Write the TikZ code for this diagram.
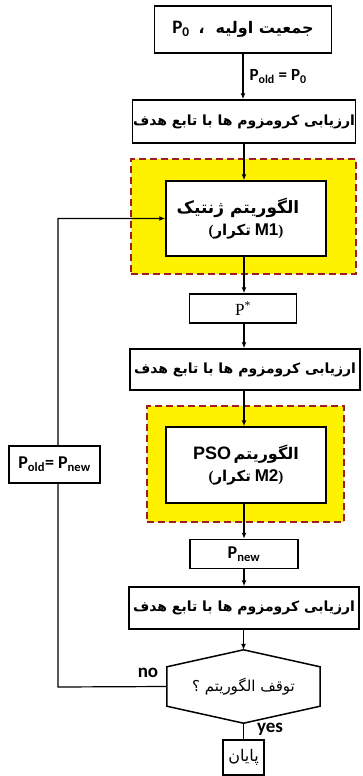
\documentclass[tikz,border=0pt]{standalone}
\usepackage{fontspec}
\setmainfont{Liberation Serif}
\newfontfamily\fafont[Script=Arabic]{DejaVu Sans}
\newfontfamily\calfont{Carlito}
\newfontfamily\arifont{Liberation Sans}
\TeXXeTstate=1
\usetikzlibrary{arrows.meta}
\newcommand{\FA}[1]{{\fafont\beginR #1\endR}}
\definecolor{ylw}{HTML}{FFF200}
\definecolor{dred}{HTML}{9E1C24}
\begin{document}
\begin{tikzpicture}[x=1pt,y=-1pt,
  box/.style={draw, line width=1.5pt, fill=white, inner sep=0pt, align=center},
  hl/.style={fill=ylw, draw=dred, line width=1.5pt, dash pattern=on 7pt off 4pt, inner sep=0pt},
  arr/.style={line width=1.2pt, -{Latex[length=6pt,width=5pt]}},
  lbl/.style={font=\calfont\bfseries\fontsize{17}{19}\selectfont, inner sep=0pt},
  fa/.style={font=\fontsize{14}{20}\selectfont\bfseries}]
\useasboundingbox (0,0) rectangle (362,776);
% highlight frames
\node[hl, minimum width=225, minimum height=115] (y1) at (243.5,216.5) {};
\node[hl, minimum width=197, minimum height=116] (y2) at (245.5,464) {};
% boxes
\node[box, minimum width=177, minimum height=47, font=\bfseries\fontsize{16}{20}\selectfont] (init) at (243,29.5)
  {{\calfont\bfseries\fontsize{19}{20}\selectfont P\textsubscript{0}}\hspace{9pt}\FA{،}\hspace{11pt}\FA{جمعیت اولیه}};
\node[box, fa, minimum width=223, minimum height=43] (ev1) at (244,121.5) {\FA{ارزیابی کرومزوم ها با تابع هدف}};
\node[box, minimum width=160, minimum height=75, font=\bfseries] (ga) at (246,218.5)
  {{\fontsize{17}{20}\selectfont\FA{الگوریتم ژنتیک}}\hspace*{16pt}\\[5pt]{\fontsize{15}{18}\selectfont(\FA{تکرار}~{\arifont\bfseries\fontsize{17}{18}\selectfont M1})}};
\node[box, minimum width=107, minimum height=29, font=\fontsize{17}{18}\selectfont] (ps) at (243,308.5) {P\textsuperscript{*}};
\node[box, fa, minimum width=230, minimum height=41] (ev2) at (245,369.5) {\FA{ارزیابی کرومزوم ها با تابع هدف}};
\node[box, minimum width=160, minimum height=76, font=\bfseries] (pso) at (246,465)
  {{\arifont\bfseries\fontsize{18}{20}\selectfont PSO}~{\fontsize{16}{20}\selectfont\FA{الگوریتم}}\\[5pt]{\fontsize{15}{18}\selectfont(\FA{تکرار}~{\arifont\bfseries\fontsize{17}{18}\selectfont M2})}};
\node[box, minimum width=108, minimum height=29, font=\calfont\bfseries\fontsize{18}{20}\selectfont] (pnew) at (244,554) {P\textsubscript{new}};
\node[box, fa, minimum width=230, minimum height=42] (ev3) at (244,608) {\FA{ارزیابی کرومزوم ها با تابع هدف}};
\node[minimum width=153, minimum height=73, inner sep=0pt, font=\fontsize{15}{18}\selectfont] (hex) at (243.5,686.5) {\FA{توقف الگوریتم ؟}};
\draw[line width=1.5pt, line join=miter]
  (hex.north) -- ([yshift=-17pt]hex.north east) -- ([yshift=17pt]hex.south east) -- (hex.south)
  -- ([yshift=17pt]hex.south west) -- ([yshift=-17pt]hex.north west) -- cycle;
\node[box, minimum width=41, minimum height=35, font=\fontsize{16}{18}\selectfont] (end) at (243.5,757.5) {\FA{پایان}};
% connectors
\draw[arr] (init.south) -- node[lbl, right=6pt] {P\textsubscript{old} = P\textsubscript{0}} (init.south |- ev1.north);
\draw[arr] (ev1.south) -- (ev1.south |- ga.north);
\draw[arr] (ga.south -| ev1.south) -- (ev1.south |- ps.north);
\draw[arr] (ps.south -| ev1.south) -- (ev1.south |- ev2.north);
\draw[arr] (ev2.south -| ev1.south) -- (ev1.south |- pso.north);
\draw[arr] (pso.south -| pnew.south) -- (pnew.north);
\draw[arr] (pnew.south) -- (pnew.south |- ev3.north);
\draw[arr] (ev3.south -| hex.north) -- (hex.north);
\draw[line width=1.2pt] (hex.south) -- (end.north);
\coordinate (fb) at (58,687);
\draw[arr] (hex.west) -- (fb) |- (ga.west);
\node[box, minimum width=91, minimum height=37, font=\calfont\bfseries\fontsize{18}{20}\selectfont] (pold) at (54.5,464.5) {P\textsubscript{old}= P\textsubscript{new}};
\node[lbl, font=\calfont\bfseries\fontsize{19}{20}\selectfont] (no) at (148,673) {no};
\node[lbl, font=\calfont\bfseries\fontsize{19}{20}\selectfont] (yes) at (270,729) {yes};
\end{tikzpicture}
\end{document}
